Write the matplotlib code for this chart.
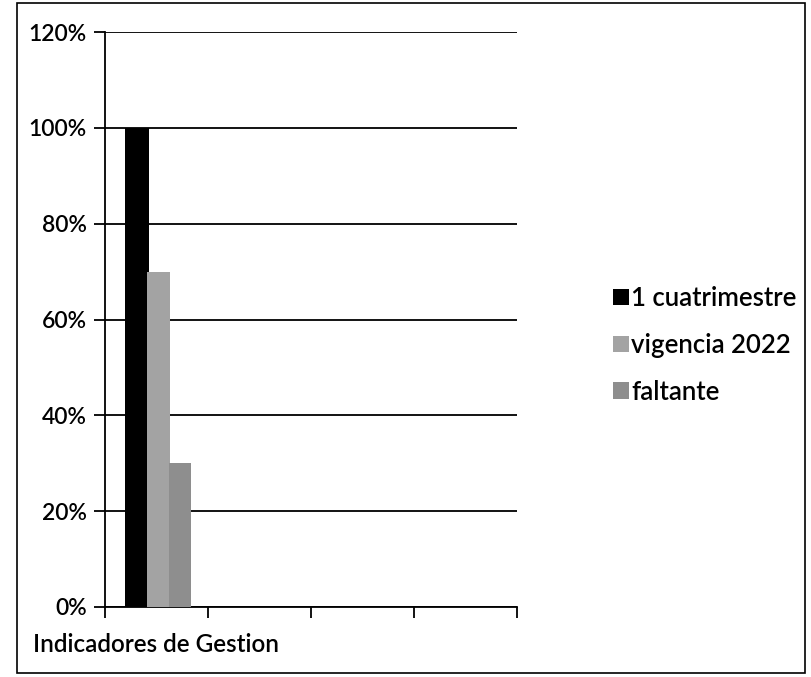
import matplotlib.pyplot as plt
from matplotlib.ticker import PercentFormatter, FixedLocator, NullFormatter

plt.rcParams['font.family'] = ['Lato', 'DejaVu Sans']
plt.rcParams['font.weight'] = 'semibold'

# data
categorias = ['Indicadores de Gestion', '', '', '']
series = ['1 cuatrimestre', 'vigencia 2022', 'faltante']
cuatrimestre = [1.00, 0, 0, 0]
vigencia = [0.70, 0, 0, 0]
faltante = [0.30, 0, 0, 0]

fig = plt.figure(figsize=(8.12, 6.77), dpi=100)
# outer border of the chart
fig.patches.append(plt.Rectangle((0.021, 0.006), 0.970, 0.990, transform=fig.transFigure,
                                 fill=False, edgecolor='black', linewidth=1.2))

ax = fig.add_axes([0.1293, 0.1034, 0.5074, 0.8493])

x = list(range(len(categorias)))
w = 0.23
ax.bar([i - 0.19 for i in x], cuatrimestre, width=w, color='black', label=series[0], zorder=3)
ax.bar([i + 0.02 for i in x], vigencia, width=w, color='#a3a3a3', label=series[1], zorder=3)
ax.bar([i + 0.23 for i in x], faltante, width=0.21, color='#8e8e8e', label=series[2], zorder=3)

ax.set_xlim(-0.5, len(categorias) - 0.5)
ax.set_ylim(0, 1.2)
ax.set_yticks([0, 0.2, 0.4, 0.6, 0.8, 1.0, 1.2])
ax.yaxis.set_major_formatter(PercentFormatter(1.0, decimals=0))
ax.yaxis.grid(True, color='black', linewidth=1.3, zorder=0)

# category boundaries as tick marks, labels at the centre
ax.xaxis.set_major_locator(FixedLocator([i - 0.5 for i in range(len(categorias) + 1)]))
ax.xaxis.set_major_formatter(NullFormatter())
ax.set_xticks(x, minor=True)
ax.set_xticklabels(categorias, minor=True, fontsize=17.5)
ax.tick_params(axis='x', which='minor', length=0, pad=19)
ax.tick_params(axis='x', which='major', length=8, width=1.3, direction='out')
ax.tick_params(axis='y', length=8, width=1.3, labelsize=16.5, pad=5)

for s in ['top', 'right']:
    ax.spines[s].set_visible(False)
ax.spines['left'].set_linewidth(1.3)
ax.spines['bottom'].set_linewidth(1.3)

fig.legend(loc='center left', bbox_to_anchor=(0.727, 0.49), frameon=False, fontsize=18.5,
           handlelength=0.6, handleheight=0.6, handletextpad=0.1, labelspacing=0.85)

fig.savefig('out.png', dpi=100)
